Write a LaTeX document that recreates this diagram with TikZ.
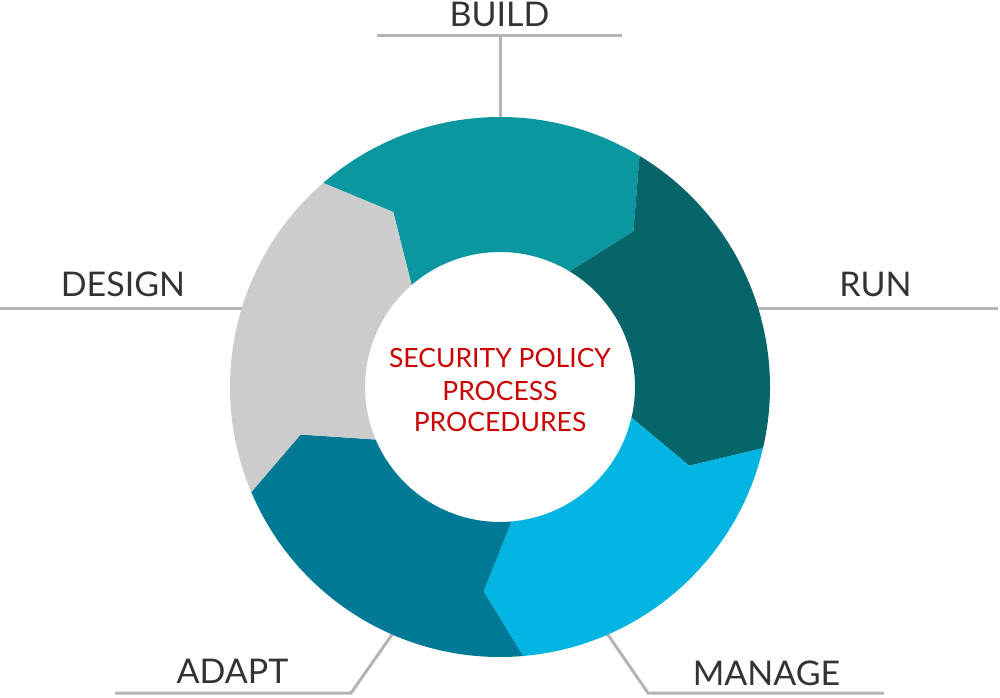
\documentclass[tikz,border=0pt]{standalone}
\usepackage{fontspec}
\setmainfont{Lato}
\definecolor{cbuild}{HTML}{0A979F}
\definecolor{crun}{HTML}{056568}
\definecolor{cmanage}{HTML}{00B5E2}
\definecolor{cadapt}{HTML}{007996}
\definecolor{cdesign}{HTML}{CCCCCC}
\definecolor{cred}{HTML}{CC0000}
\definecolor{cleader}{HTML}{B4B4B4}
\definecolor{clabel}{HTML}{333333}
\tikzset{
  leader/.style={draw=cleader, line width=3pt},
  steplabel/.style={anchor=base, inner sep=0pt, text=clabel, font=\fontsize{34}{40}\selectfont},
  centertext/.style={anchor=base, inner sep=0pt, text=cred, font=\fontsize{26.5}{30}\selectfont},
}
% segment: #1 colour, #2 start angle (ccw edge), #3 end angle (cw edge)
\newcommand{\ringseg}[3]{%
  \fill[#1] (#2:270) arc[start angle=#2, end angle=#3, radius=270]
    -- (#3-9.5:205) -- (#3:135)
    arc[start angle=#3, end angle=#2, radius=135]
    -- (#2-9.5:205) -- cycle;}
\begin{document}
\begin{tikzpicture}[x=1pt, y=1pt]
\useasboundingbox (0,0) rectangle (1000,697);
\fill[white] (0,0) rectangle (1000,697);
% leader coordinates
\coordinate (bL) at (377,661);
\coordinate (bR) at (622,661);
\coordinate (bT) at (500,661);
\coordinate (bB) at (500,575);
\coordinate (dL) at (0,389);
\coordinate (dR) at (246,389);
\coordinate (rL) at (754,389);
\coordinate (rR) at (998,389);
\coordinate (aL) at (115,4);
\coordinate (aK) at (351,4);
\coordinate (aE) at (396,68);
\coordinate (mR) at (884,4);
\coordinate (mK) at (648,4);
\coordinate (mE) at (604,68);
\draw[leader] (bL) -- (bR);
\draw[leader] (bT) -- (bB);
\draw[leader] (dL) -- (dR);
\draw[leader] (rL) -- (rR);
\draw[leader] (aL) -- (aK) -- (aE);
\draw[leader] (mR) -- (mK) -- (mE);
% ring
\begin{scope}[shift={(500,310)}]
\ringseg{cbuild}{130.9}{58.9}
\ringseg{crun}{58.9}{-13.1}
\ringseg{cmanage}{-13.1}{-85.1}
\ringseg{cadapt}{-85.1}{-157.1}
\ringseg{cdesign}{-157.1}{-229.1}
\end{scope}
% labels
\node[steplabel] (build) at (499.5,670) {BUILD};
\node[steplabel] (design) at (123,400) {DESIGN};
\node[steplabel] (run) at (875.5,400) {RUN};
\node[steplabel] (adapt) at (232.5,14) {ADAPT};
\node[steplabel] (manage) at (766.5,12) {MANAGE};
% centre text
\node[centertext] (c1) at (500,330) {SECURITY POLICY};
\node[centertext] (c2) at (500,297) {PROCESS};
\node[centertext] (c3) at (500,266) {PROCEDURES};
\end{tikzpicture}
\end{document}
